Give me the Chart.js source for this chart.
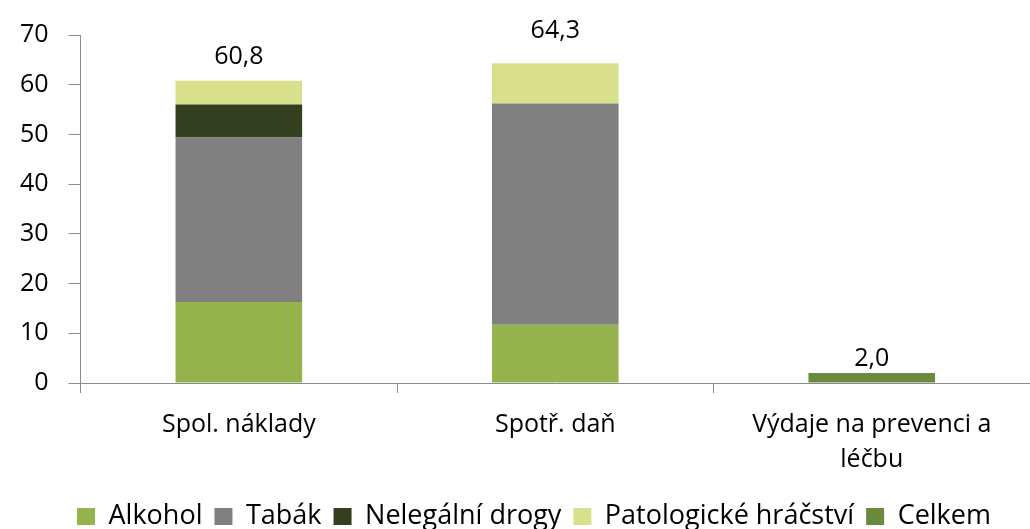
<!DOCTYPE html>
<html lang="cs">
<head>
    <meta charset="UTF-8">
    <title>Náklady a příjmy</title>
    <script src="https://cdn.jsdelivr.net/npm/chart.js@4.4.0/dist/chart.umd.min.js"></script>
    <style>
        body {
            margin: 0;
            padding: 0;
            background: #ffffff;
        }

        .chart-container {
            width: 1030px;
            height: 529px;
        }
    </style>
</head>
<body>
    <div class="chart-container">
        <canvas id="costChart"></canvas>
    </div>

    <script>
        const categories = ['Spol. náklady', 'Spotř. daň', ['Výdaje na prevenci a', 'léčbu']];
        const alkohol = [16.3, 11.7, null];
        const tabak = [33.1, 44.5, null];
        const drogy = [6.6, null, null];
        const hracstvi = [4.8, 8.1, null];
        const celkem = [null, null, 2.0];
        const totals = ['60,8', '64,3', '2,0'];
        const yTicks = [0, 10, 20, 30, 40, 50, 60, 70];

        const fontFamily = '"Open Sans", "Noto Sans", sans-serif';
        const fontSize = 25;
        const axisGrey = '#8c8c8c';

        // draws the total above each stacked bar
        const totalLabels = {
            id: 'totalLabels',
            afterDatasetsDraw(chart, args, opts) {
                const ctx = chart.ctx;
                const y = chart.scales.y;
                ctx.save();
                ctx.font = fontSize + 'px ' + fontFamily;
                ctx.fillStyle = '#000000';
                ctx.textAlign = 'center';
                ctx.textBaseline = 'middle';
                categories.forEach((c, i) => {
                    let sum = 0;
                    chart.data.datasets.forEach(ds => { sum += ds.data[i] || 0; });
                    const x = chart.getDatasetMeta(0).data[i].x;
                    ctx.fillText(totals[i], x, y.getPixelForValue(sum) - opts.offsets[i]);
                });
                ctx.restore();
            }
        };

        // nudge the legend a bit to the right, like the original
        const legendShift = {
            id: 'legendShift',
            afterLayout(chart, args, opts) {
                chart.legend.left += opts.dx;
                chart.legend.right += opts.dx;
            }
        };

        new Chart(document.getElementById('costChart'), {
            type: 'bar',
            data: {
                labels: categories,
                datasets: [
                    { label: 'Alkohol', data: alkohol, backgroundColor: '#94b34c' },
                    { label: 'Tabák', data: tabak, backgroundColor: '#808080' },
                    { label: 'Nelegální drogy', data: drogy, backgroundColor: '#333f1f' },
                    { label: 'Patologické hráčství', data: hracstvi, backgroundColor: '#d8e08c' },
                    { label: 'Celkem', data: celkem, backgroundColor: '#6a8a3e' }
                ]
            },
            options: {
                responsive: true,
                maintainAspectRatio: false,
                animation: false,
                datasets: {
                    bar: {
                        categoryPercentage: 1.0,
                        barPercentage: 0.4,
                        grouped: false
                    }
                },
                layout: {
                    padding: { top: 9, right: -2, left: 0, bottom: -11 }
                },
                plugins: {
                    tooltip: { enabled: false },
                    totalLabels: { offsets: [24, 32, 14] },
                    legendShift: { dx: 18 },
                    legend: {
                        position: 'bottom',
                        labels: {
                            color: '#000000',
                            boxWidth: 18,
                            boxHeight: 17,
                            padding: 12,
                            font: { family: fontFamily, size: 27 }
                        }
                    }
                },
                scales: {
                    x: {
                        stacked: true,
                        grid: {
                            display: true,
                            drawOnChartArea: false,
                            drawTicks: true,
                            tickLength: 10,
                            color: axisGrey
                        },
                        border: { color: axisGrey, width: 1 },
                        ticks: {
                            color: '#000000',
                            padding: 14,
                            maxRotation: 0,
                            font: { family: fontFamily, size: fontSize, lineHeight: 1.4 }
                        }
                    },
                    y: {
                        stacked: true,
                        min: 0,
                        max: 70,
                        afterBuildTicks: axis => {
                            axis.ticks = yTicks.map(v => ({ value: v }));
                        },
                        grid: {
                            display: true,
                            drawOnChartArea: false,
                            drawTicks: true,
                            tickLength: 12,
                            color: axisGrey
                        },
                        border: { color: axisGrey, width: 1 },
                        ticks: {
                            color: '#000000',
                            padding: 20,
                            font: { family: fontFamily, size: fontSize }
                        }
                    }
                }
            },
            plugins: [totalLabels, legendShift]
        });
    </script>
</body>
</html>
